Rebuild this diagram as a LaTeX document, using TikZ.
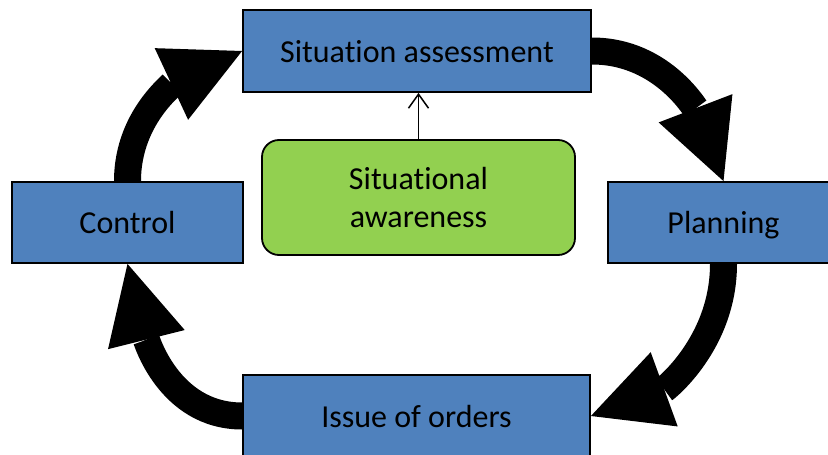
\documentclass[tikz,border=0pt]{standalone}
\usepackage{fontspec}
\setmainfont[Ligatures=NoCommon]{Carlito}
\usetikzlibrary{arrows.meta}
\definecolor{boxblue}{HTML}{4F81BD}
\definecolor{boxgreen}{HTML}{92D050}
\begin{document}
\begin{tikzpicture}[x=1pt,y=1pt,
  stagebox/.style={draw=black, line width=1.8pt, fill=boxblue, inner sep=0pt,
    text height=22pt, text depth=0pt,
    font=\fontsize{32}{38.4}\selectfont, text=black},
  awarebox/.style={draw=black, line width=1.8pt, fill=boxgreen, rounded corners=17pt,
    inner sep=0pt, align=center, font=\fontsize{32}{38.4}\selectfont, text=black},
  bigarrow/.style={line width=27pt, draw=black,
    -{Triangle[length=78pt,width=79pt,line width=0pt]}},
  thinarrow/.style={line width=1.5pt, draw=black,
    -{Straight Barb[length=14pt,width=20pt,line width=1.5pt]}}]
\useasboundingbox (0,0) rectangle (828,-455);
\node[stagebox, minimum width=348pt, minimum height=82pt] (sa) at (417,-51) {Situation assessment};
\node[stagebox, minimum width=231pt, minimum height=81pt] (plan) at (723.5,-222.5) {Planning};
\node[stagebox, minimum width=231pt, minimum height=81pt] (ctrl) at (127.5,-222.5) {Control};
\node[stagebox, minimum width=347pt, minimum height=82pt] (issue) at (416.5,-416) {Issue of orders};
\node[awarebox, minimum width=313pt, minimum height=115pt] (aware) at (418.5,-197.5) {Situational\\awareness};
\draw[thinarrow] (aware.north) -- (aware.north |- sa.south);
\draw[bigarrow] (sa.east) to[out=0,in=111] (plan.north);
\draw[bigarrow] (plan.south) to[out=-90,in=20] (issue.east);
\draw[bigarrow] (issue.west) to[out=180,in=-76] (ctrl.south);
\draw[bigarrow] (ctrl.north) to[out=90,in=205] (sa.west);
\end{tikzpicture}
\end{document}
